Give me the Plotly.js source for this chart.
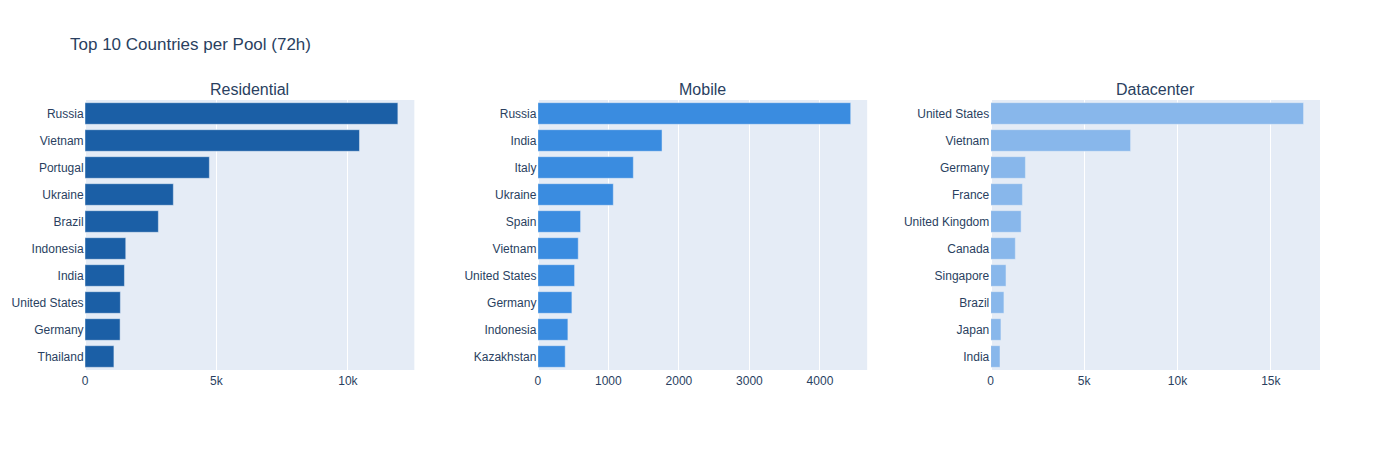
<!DOCTYPE html>
<html>
<head>
<meta charset="utf-8">
<script src="https://cdn.plot.ly/plotly-3.0.1.min.js"></script>
<style>html,body{margin:0;padding:0;background:#fff}#chart{width:1400px;height:450px}</style>
</head>
<body>
<div id="chart"></div>
<script>
const resCountries = ["Russia","Vietnam","Portugal","Ukraine","Brazil","Indonesia","India","United States","Germany","Thailand"];
const resValues = [11900,10440,4730,3360,2790,1550,1500,1345,1335,1100];

const mobCountries = ["Russia","India","Italy","Ukraine","Spain","Vietnam","United States","Germany","Indonesia","Kazakhstan"];
const mobValues = [4436,1761,1354,1070,606,573,521,483,426,388];

const dcCountries = ["United States","Vietnam","Germany","France","United Kingdom","Canada","Singapore","Brazil","Japan","India"];
const dcValues = [16750,7490,1860,1700,1630,1320,820,710,550,500];

const poolNames = ["Residential","Mobile","Datacenter"];
const poolColors = ["#1b5fa6","#3a8ce0","#88b7eb"];

const sets = [[resCountries,resValues],[mobCountries,mobValues],[dcCountries,dcValues]];
const traces = sets.map((s,i)=>({
  type:"bar", orientation:"h",
  x:s[1].slice().reverse(), y:s[0].slice().reverse(),
  name:poolNames[i],
  marker:{color:poolColors[i], line:{color:"#E5ECF6", width:0.5}},
  xaxis: i===0?"x":"x"+(i+1), yaxis: i===0?"y":"y"+(i+1),
  showlegend:false
}));

const w = (1-0.2)/3;
const domains = [[0,w],[w+0.1,2*w+0.1],[1-w,1]];
const font = {family:'"Liberation Sans", Arial, sans-serif', color:"#2a3f5f", size:12};
const layout = {
  width:1400, height:450,
  font:font,
  paper_bgcolor:"#fff", plot_bgcolor:"#E5ECF6",
  title:{text:"Top 10 Countries per Pool (72h)", x:0.05, font:{size:17, color:"#2a3f5f"}},
  margin:{l:85,r:80,t:100,b:80},
  showlegend:false,
  annotations: poolNames.map((n,i)=>({
    text:n, x:(domains[i][0]+domains[i][1])/2, y:1, xref:"paper", yref:"paper",
    xanchor:"center", yanchor:"bottom", showarrow:false, font:{size:16, color:"#2a3f5f"}
  }))
};
domains.forEach((d,i)=>{
  const sx = i===0?"":String(i+1);
  layout["xaxis"+sx] = {domain:d, anchor:"y"+sx, gridcolor:"white", zeroline:true, zerolinecolor:"white", zerolinewidth:2, automargin:false, ticks:"", linecolor:"white"};
  layout["yaxis"+sx] = {domain:[0,1], anchor:"x"+sx, showgrid:false, automargin:false, ticks:"", linecolor:"white", ticklabelstandoff:-2};
});
Plotly.newPlot("chart", traces, layout, {displayModeBar:false});
</script>
</body>
</html>
